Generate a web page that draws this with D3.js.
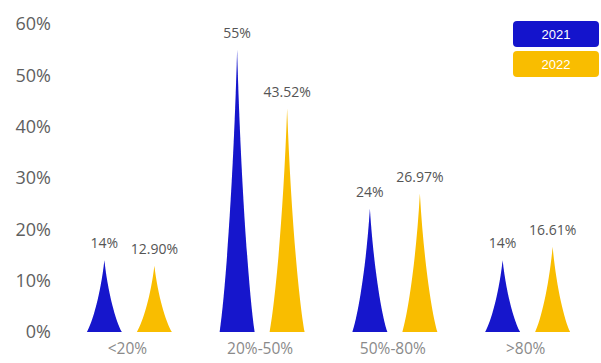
<!DOCTYPE html>
<html>
<head>
<meta charset="utf-8">
<script src="https://cdn.jsdelivr.net/npm/d3@7/dist/d3.min.js"></script>
<style>
  body { margin: 0; background: #fff; }
  svg { display: block; font-family: "Open Sans", "Noto Sans", sans-serif; }
</style>
</head>
<body>
<svg id="chart" width="601" height="363"></svg>
<script>
// chart data
var categories = ['<20%', '20%-50%', '50%-80%', '>80%'];
var years = ['2021', '2022'];
var values2021 = [14, 55, 24, 14];
var values2022 = [12.90, 43.52, 26.97, 16.61];
var labels2021 = ['14%', '55%', '24%', '14%'];
var labels2022 = ['12.90%', '43.52%', '26.97%', '16.61%'];
var yTicks = [0, 10, 20, 30, 40, 50, 60];

var colors = { '2021': '#1414cc', '2022': '#f9bd00' };

var svg = d3.select('#chart');
var margin = { top: 24, right: 7, bottom: 31, left: 63 };
var width = 601 - margin.left - margin.right;
var height = 363 - margin.top - margin.bottom;

var x = d3.scaleBand().domain(categories).range([margin.left, margin.left + width]);
var xSub = d3.scaleBand().domain(years).range([-42.5, 42.5]).paddingInner(0.3);
var y = d3.scaleLinear().domain([0, 60]).range([margin.top + height, margin.top]);

var defs = svg.append('defs');
var blur = defs.append('filter').attr('id', 'glow').attr('x', '-30%').attr('y', '-10%')
    .attr('width', '160%').attr('height', '120%');
blur.append('feGaussianBlur').attr('in', 'SourceGraphic').attr('stdDeviation', 0.6);

// y axis labels
var yAxis = d3.axisLeft(y).tickValues(yTicks).tickSize(0).tickPadding(0)
    .tickFormat(function(d) { return d + '%'; });
var yAxisG = svg.append('g').attr('transform', 'translate(51,0)').call(yAxis);
yAxisG.select('.domain').remove();
yAxisG.selectAll('text').attr('font-size', 18).attr('fill', '#5f5f5f')
    .attr('font-family', '"Open Sans", sans-serif');

// x axis labels
var xAxis = d3.axisBottom(x).tickSize(0).tickPadding(0);
var xAxisG = svg.append('g').attr('transform', 'translate(-2,' + (margin.top + height + 11) + ')').call(xAxis);
xAxisG.select('.domain').remove();
xAxisG.selectAll('text').attr('font-size', 15.5).attr('fill', '#8a8a8a')
    .attr('font-family', '"Open Sans", sans-serif');

// concave triangle pictorial bar
function spike(cx, top, base, w) {
    var hw = w / 2, h = base - top;
    var p = d3.path();
    p.moveTo(cx - hw, base);
    p.lineTo(cx + hw, base);
    p.bezierCurveTo(cx + hw * 0.65, base - h * 0.15, cx + hw * 0.2, base - h * 0.55, cx, top);
    p.bezierCurveTo(cx - hw * 0.2, base - h * 0.55, cx - hw * 0.65, base - h * 0.15, cx - hw, base);
    p.closePath();
    return p.toString();
}

var series = [
    { year: '2021', values: values2021, labels: labels2021 },
    { year: '2022', values: values2022, labels: labels2022 }
];

var barW = 35;
series.forEach(function(s) {
    var g = svg.append('g').attr('class', 'series-' + s.year);
    categories.forEach(function(c, i) {
        var cx = x(c) + x.bandwidth() / 2 + xSub(s.year) + xSub.bandwidth() / 2;
        g.append('path')
            .attr('d', spike(cx, y(s.values[i]), y(0), barW))
            .attr('fill', colors[s.year])
            .attr('filter', 'url(#glow)');
        g.append('text')
            .attr('x', cx)
            .attr('y', y(s.values[i]) - 12)
            .attr('text-anchor', 'middle')
            .attr('font-size', 14)
            .attr('fill', '#555')
            .text(s.labels[i]);
    });
});

// legend
var legend = svg.append('g').attr('class', 'legend');
years.forEach(function(yr, i) {
    var lg = legend.append('g').attr('transform', 'translate(513,' + (21 + i * 30) + ')');
    lg.append('rect').attr('width', 86).attr('height', 26).attr('rx', 4)
        .attr('fill', colors[yr]);
    lg.append('text').attr('x', 43).attr('y', 17.5).attr('text-anchor', 'middle')
        .attr('font-size', 13).attr('fill', '#fff')
        .attr('font-family', '"Liberation Sans", Arial, sans-serif')
        .text(yr);
});
</script>
</body>
</html>
